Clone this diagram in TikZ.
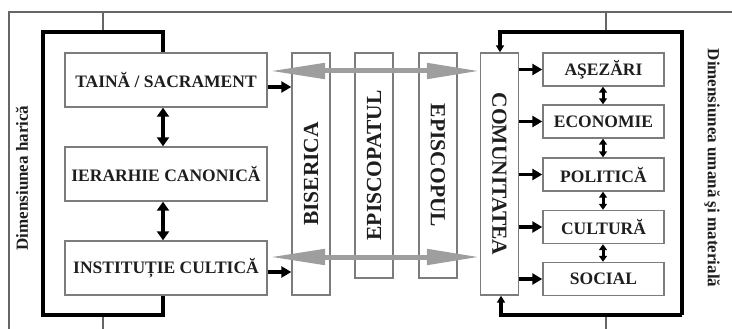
\documentclass[tikz,border=0pt]{standalone}
\usepackage{fontspec}
\setmainfont{Liberation Serif}
\usetikzlibrary{arrows.meta,calc}
\definecolor{boxgray}{HTML}{7C7C7C}
\definecolor{arrowgray}{HTML}{9E9E9E}
\definecolor{framegray}{HTML}{666666}
\definecolor{txt}{HTML}{1E1E1E}
\begin{document}
\begin{tikzpicture}[x=1pt,y=-1pt,
  box/.style={draw=boxgray,line width=1.4pt,inner sep=0pt,text=txt,font=\fontsize{17.5}{20}\selectfont\bfseries},
  lbox/.style={box,minimum width=202pt,minimum height=54pt},
  rbox/.style={box,minimum width=121pt,minimum height=33pt},
  colbox/.style={draw=boxgray,line width=1.4pt,inner sep=0pt,minimum width=38pt},
  coltext/.style={inner sep=0pt,text=txt,font=\fontsize{21.5}{24}\selectfont\bfseries},
  sidetext/.style={inner sep=0pt,text=txt,font=\fontsize{17}{20}\selectfont\bfseries},
  gframe/.style={draw=framegray,line width=2.8pt},
  bracketline/.style={draw=black,line width=3.2pt},
  garrow/.style={draw=arrowgray,fill=arrowgray,line width=5pt,
     {Triangle[length=55pt,width=15pt]}-{Triangle[length=53pt,width=15pt]}},
  blk/.style={draw=black,line width=3.5pt,-{Triangle[length=10pt,width=11pt]}},
  dbl/.style={draw=black,line width=4pt,{Triangle[length=9pt,width=12pt]}-{Triangle[length=9pt,width=12pt]}},
  sdbl/.style={draw=black,line width=3pt,{Triangle[length=6pt,width=8pt]}-{Triangle[length=6pt,width=8pt]}},
  bracketarrow/.style={draw=black,line width=3.2pt,-{Triangle[length=7pt,width=8pt]}}
]
\useasboundingbox (0,0) rectangle (732,329);

% outer gray frame
\draw[gframe] (9,329) -- (9,12) -- (732,12);
\draw[gframe] (103,12) -- (103,32);
\draw[gframe] (103,315) -- (103,329);
\draw[gframe] (606,12) -- (606,32);
\draw[gframe] (606,315) -- (606,329);

% left boxes
\node[lbox] (tain) at (166,80) {TAINĂ / SACRAMENT};
\node[lbox] (ier) at (166,174) {IERARHIE CANONICĂ};
\node[lbox] (inst) at (166,268) {INSTITUȚIE CULTICĂ};

% columns
\node[colbox,minimum height=242pt] (bis) at (311,174) {};
\node[colbox,minimum height=225pt] (epat) at (374,165.5) {};
\node[colbox,minimum height=225pt] (epul) at (438,165.5) {};
\node[colbox,minimum height=242pt] (com) at (499.5,174) {};

% gray double arrows
\coordinate (gl1) at (270,71);
\coordinate (gl2) at (270,257);
\draw[garrow] (gl1) -- (gl1 -| com.west);
\draw[garrow] (gl2) -- (gl2 -| com.west);

\node[coltext,rotate=90] (bist) at (bis) {BISERICA};
\node[coltext,rotate=90] (epatt) at (epat) {EPISCOPATUL};
\node[coltext,rotate=-90] (epult) at (epul) {EPISCOPUL};
\node[coltext,rotate=-90] (comt) at (com) {COMUNITATEA};

% right boxes
\node[rbox] (ase) at (603.5,69.5) {AŞEZĂRI};
\node[rbox] (eco) at (603.5,121.5) {ECONOMIE};
\node[rbox] (pol) at (603.5,174.5) {POLITICĂ};
\node[rbox] (cul) at (603.5,227) {CULTURĂ};
\node[rbox] (soc) at (603.5,279) {SOCIAL};

% side labels
\node[sidetext,rotate=90] (dimh) at (22,178) {Dimensiunea harică};
\node[sidetext,rotate=-90] (dimu) at (712,168) {Dimensiunea umană şi materială};

% left bracket
\draw[bracketline] (tain.north -| 163,0) -- (163,32) -- (43,32) -- (43,315) -- (163,315) -- (inst.south -| 163,0);

% left double arrows
\draw[dbl] (tain.south -| 163,0) -- (ier.north -| 163,0);
\draw[dbl] (ier.south -| 163,0) -- (inst.north -| 163,0);

% arrows into BISERICA
\draw[blk] ([yshift=-7pt]tain.east) -- ([yshift=-7pt]tain.east -| bis.west);
\draw[blk] ([yshift=-4pt]inst.east) -- ([yshift=-4pt]inst.east -| bis.west);

% right bracket
\coordinate (rb1) at (500,32);
\coordinate (rb2) at (682,32);
\coordinate (rb3) at (682,315);
\coordinate (rb4) at (501,315);
\draw[bracketarrow] (rb3) -- (rb2) -- (rb1) -- (rb1 |- com.north);
\draw[bracketarrow] (rb3) -- (rb4) -- (rb4 |- com.south);

% arrows from COMUNITATEA
\foreach \b in {ase,eco,pol,cul,soc}
  \draw[blk] (\b.west -| com.east) -- (\b.west);

% right double arrows
\draw[sdbl] (ase.south -| 603,0) -- (eco.north -| 603,0);
\draw[sdbl] (eco.south -| 603,0) -- (pol.north -| 603,0);
\draw[sdbl] (pol.south -| 603,0) -- (cul.north -| 603,0);
\draw[sdbl] (cul.south -| 603,0) -- (soc.north -| 603,0);
\end{tikzpicture}
\end{document}
